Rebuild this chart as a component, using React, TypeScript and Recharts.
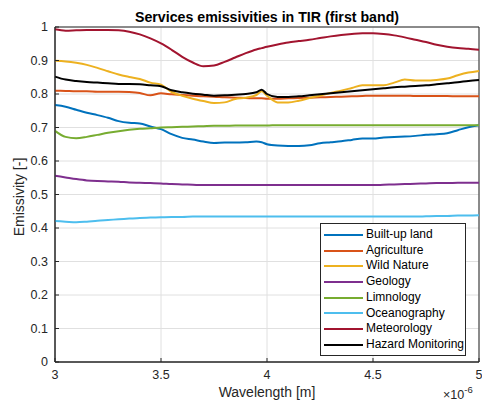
import { CartesianGrid, Legend, Line, LineChart, ReferenceArea, XAxis, YAxis } from "recharts";

// wavelength in micrometres (axis shows x10^-6 m)
const WAVELENGTH = [
  3.0, 3.05, 3.1, 3.15, 3.2, 3.25, 3.3, 3.35, 3.4, 3.45, 3.5, 3.55, 3.6, 3.65, 3.7, 3.75, 3.8,
  3.85, 3.9, 3.95, 3.975, 4.0, 4.05, 4.1, 4.15, 4.2, 4.25, 4.3, 4.35, 4.4, 4.45, 4.5, 4.55, 4.6,
  4.65, 4.7, 4.75, 4.8, 4.85, 4.9, 4.95, 5.0,
];

const BUILT_UP = [
  0.767, 0.762, 0.753, 0.744, 0.737, 0.729, 0.719, 0.714, 0.712, 0.703, 0.695, 0.68, 0.669,
  0.664, 0.658, 0.654, 0.655, 0.655, 0.656, 0.658, 0.656, 0.65, 0.646, 0.645, 0.645, 0.647,
  0.653, 0.656, 0.659, 0.663, 0.667, 0.667, 0.67, 0.672, 0.673, 0.675, 0.678, 0.68, 0.683,
  0.692, 0.701, 0.707,
];
const AGRICULTURE = [
  0.81, 0.809, 0.808, 0.808, 0.807, 0.807, 0.807, 0.806, 0.803, 0.796, 0.802, 0.799, 0.797,
  0.795, 0.793, 0.792, 0.79, 0.789, 0.788, 0.787, 0.787, 0.786, 0.786, 0.787, 0.788, 0.789,
  0.79, 0.791, 0.792, 0.793, 0.794, 0.795, 0.795, 0.795, 0.795, 0.794, 0.794, 0.794, 0.794,
  0.793, 0.793, 0.793,
];
const WILD_NATURE = [
  0.899, 0.897, 0.893, 0.887, 0.878, 0.868, 0.858, 0.851, 0.845, 0.834, 0.828, 0.806, 0.795,
  0.786, 0.779, 0.773, 0.775, 0.785, 0.789, 0.797, 0.808, 0.795, 0.775, 0.775, 0.78, 0.788,
  0.795, 0.803, 0.81, 0.818, 0.826, 0.826, 0.826, 0.834, 0.843, 0.84, 0.84, 0.842, 0.846,
  0.856, 0.864, 0.869,
];
const GEOLOGY = [
  0.556, 0.551, 0.546, 0.542, 0.54, 0.539, 0.538, 0.536, 0.535, 0.534, 0.533, 0.531, 0.53,
  0.529, 0.528, 0.528, 0.528, 0.528, 0.528, 0.528, 0.528, 0.528, 0.528, 0.528, 0.528, 0.528,
  0.528, 0.528, 0.528, 0.528, 0.528, 0.528, 0.529, 0.53, 0.531, 0.532, 0.533, 0.534, 0.534,
  0.535, 0.535, 0.535,
];
const LIMNOLOGY = [
  0.69, 0.672, 0.668, 0.672, 0.678, 0.684, 0.689, 0.693, 0.696, 0.698, 0.7, 0.701, 0.702,
  0.703, 0.704, 0.705, 0.705, 0.706, 0.706, 0.706, 0.706, 0.706, 0.707, 0.707, 0.707, 0.707,
  0.707, 0.707, 0.707, 0.707, 0.707, 0.707, 0.707, 0.707, 0.707, 0.707, 0.707, 0.707, 0.707,
  0.707, 0.707, 0.707,
];
const OCEANOGRAPHY = [
  0.421, 0.419, 0.417, 0.419, 0.422, 0.424, 0.426, 0.428, 0.43, 0.431, 0.432, 0.433, 0.433,
  0.434, 0.434, 0.434, 0.434, 0.434, 0.434, 0.434, 0.434, 0.434, 0.434, 0.434, 0.434, 0.434,
  0.434, 0.434, 0.434, 0.434, 0.434, 0.434, 0.434, 0.434, 0.434, 0.434, 0.435, 0.436, 0.436,
  0.437, 0.437, 0.438,
];
const METEOROLOGY = [
  0.993, 0.989, 0.99, 0.991, 0.991, 0.991, 0.99, 0.986, 0.978, 0.966, 0.951, 0.932, 0.911,
  0.894, 0.883, 0.885, 0.896, 0.909, 0.922, 0.933, 0.937, 0.941, 0.948, 0.954, 0.958, 0.962,
  0.967, 0.972, 0.976, 0.979, 0.981, 0.981, 0.979, 0.975, 0.969, 0.962, 0.955, 0.947, 0.941,
  0.937, 0.935, 0.932,
];
const HAZARD = [
  0.852, 0.843, 0.839, 0.836, 0.834, 0.832, 0.83, 0.83, 0.829, 0.826, 0.823, 0.811, 0.805,
  0.801, 0.798, 0.795, 0.796, 0.798, 0.8, 0.805, 0.813, 0.8, 0.791, 0.791, 0.793, 0.796,
  0.799, 0.802, 0.805, 0.808, 0.811, 0.814, 0.817, 0.82, 0.822, 0.824, 0.826, 0.829, 0.832,
  0.835, 0.839, 0.842,
];

const X_TICKS = [3, 3.5, 4, 4.5, 5];
const Y_TICKS = [0, 0.1, 0.2, 0.3, 0.4, 0.5, 0.6, 0.7, 0.8, 0.9, 1];

const SERIES = [
  { key: "builtUp", name: "Built-up land", values: BUILT_UP, color: "#0072BD" },
  { key: "agriculture", name: "Agriculture", values: AGRICULTURE, color: "#D95319" },
  { key: "wild", name: "Wild Nature", values: WILD_NATURE, color: "#EDB120" },
  { key: "geology", name: "Geology", values: GEOLOGY, color: "#7E2F8E" },
  { key: "limnology", name: "Limnology", values: LIMNOLOGY, color: "#77AC30" },
  { key: "ocean", name: "Oceanography", values: OCEANOGRAPHY, color: "#4DBEEE" },
  { key: "meteo", name: "Meteorology", values: METEOROLOGY, color: "#A2142F" },
  { key: "hazard", name: "Hazard Monitoring", values: HAZARD, color: "#000000" },
];

const data = WAVELENGTH.map((w, i) => {
  const row: Record<string, number> = { w };
  SERIES.forEach((s) => {
    row[s.key] = s.values[i];
  });
  return row;
});

const FONT = "'Liberation Sans', Arial, sans-serif";
const AXIS = "#262626";

function LegendBox() {
  return (
    <div
      style={{
        border: `1px solid ${AXIS}`,
        background: "#fff",
        padding: "3px 0 2px 3px",
        fontFamily: FONT,
        fontSize: 12,
        color: "#000",
        lineHeight: "15.7px",
      }}
    >
      {SERIES.map((s) => (
        <div key={s.key} style={{ display: "flex", alignItems: "center", whiteSpace: "nowrap" }}>
          <span style={{ display: "inline-block", width: 39, height: 2, background: s.color, marginRight: 3 }} />
          <span>{s.name}</span>
        </div>
      ))}
    </div>
  );
}

export default function App() {
  return (
    <div style={{ position: "absolute", left: 0, top: 0, width: 482, height: 404, background: "#fff" }}>
      <LineChart
        width={482}
        height={404}
        data={data}
        margin={{ top: 27, right: 3, bottom: 0, left: 0 }}
        style={{ fontFamily: FONT }}
      >
        <CartesianGrid stroke="#e0e0e0" strokeWidth={1} />
        <XAxis
          dataKey="w"
          type="number"
          domain={[3, 5]}
          ticks={X_TICKS}
          height={42}
          tick={{ fontSize: 12.5, fill: AXIS }}
          tickSize={-4}
          tickMargin={12}
          tickLine={{ stroke: AXIS }}
          axisLine={{ stroke: AXIS }}
        />
        <YAxis
          type="number"
          domain={[0, 1]}
          ticks={Y_TICKS}
          width={55}
          tick={{ fontSize: 12.5, fill: AXIS }}
          tickSize={-4}
          tickMargin={11}
          tickLine={{ stroke: AXIS }}
          axisLine={{ stroke: AXIS }}
        />
        <ReferenceArea x1={3} x2={5} y1={0} y2={1} fill="none" stroke={AXIS} strokeWidth={1} />
        {SERIES.map((s) => (
          <Line
            key={s.key}
            dataKey={s.key}
            name={s.name}
            type="monotone"
            stroke={s.color}
            strokeWidth={2}
            dot={false}
            activeDot={false}
            isAnimationActive={false}
          />
        ))}
        <Legend
          layout="vertical"
          align="center"
          verticalAlign="middle"
          content={() => <LegendBox />}
          wrapperStyle={{ left: 320, top: 223, width: 146 }}
        />
      </LineChart>
      <svg
        width={482}
        height={404}
        style={{ position: "absolute", left: 0, top: 0, pointerEvents: "none", fontFamily: FONT }}
      >
        <text x={267} y={21.5} textAnchor="middle" fontSize={14.2} fontWeight="bold" fill="#000">
          Services emissivities in TIR (first band)
        </text>
        <text x={24} y={197} textAnchor="middle" fontSize={14} fill={AXIS} transform="rotate(-90 24 197)">
          Emissivity [-]
        </text>
        <text x={267} y={397} textAnchor="middle" fontSize={14} fill={AXIS}>
          Wavelength [m]
        </text>
        <text x={443} y={399} fontSize={12.5} fill={AXIS}>
          ×10
          <tspan fontSize={9.5} dy={-6}>-6</tspan>
        </text>
      </svg>
    </div>
  );
}
